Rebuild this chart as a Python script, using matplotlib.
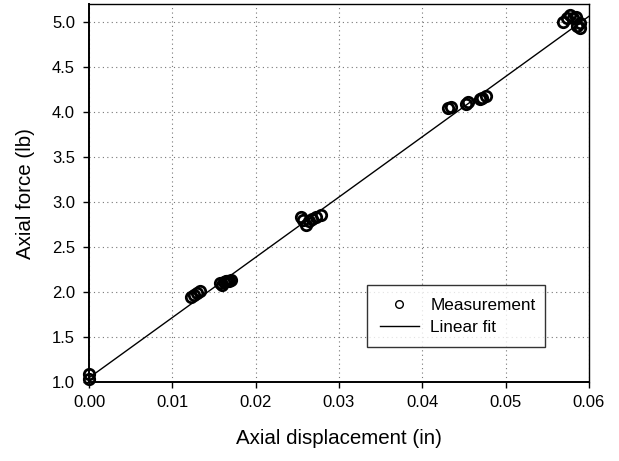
import numpy as np
import matplotlib.pyplot as plt

plt.rcParams['font.family'] = ['Liberation Sans', 'DejaVu Sans']

# Measured axial displacement (in) and force (lb)
disp = [0.0, 0.0,
        0.0122, 0.0126, 0.0129, 0.0133,
        0.0157, 0.0160, 0.0162, 0.0164, 0.0166, 0.0168, 0.0170,
        0.0254, 0.0257, 0.0261, 0.0264, 0.0268, 0.0273, 0.0279,
        0.0431, 0.0435, 0.0453, 0.0455, 0.0469, 0.0472, 0.0476,
        0.0569, 0.0574, 0.0577, 0.0581, 0.0585, 0.0589, 0.0589, 0.0586]
force = [1.04, 1.09,
         1.95, 1.97, 1.99, 2.01,
         2.10, 2.08, 2.11, 2.12, 2.12, 2.13, 2.14,
         2.83, 2.80, 2.75, 2.79, 2.81, 2.83, 2.86,
         4.04, 4.06, 4.09, 4.11, 4.14, 4.16, 4.18,
         5.00, 5.04, 5.08, 5.05, 5.06, 4.99, 4.93, 4.96]

# linear fit coefficients: force = intercept + slope * disp
fit_slope = 66.9
fit_intercept = 1.05

xticks = [0.00, 0.01, 0.02, 0.03, 0.04, 0.05, 0.06]
yticks = [1.0, 1.5, 2.0, 2.5, 3.0, 3.5, 4.0, 4.5, 5.0]

fig = plt.figure(figsize=(6.19, 4.61), dpi=100)
ax = fig.add_axes([0.1438, 0.1707, 0.8077, 0.8206])

xfit = np.array([0.0, 0.06])
ax.plot(xfit, fit_intercept + fit_slope * xfit, color='black', lw=1.0,
        label='Linear fit', zorder=3)
ax.plot(disp, force, linestyle='none', marker='o', markersize=7.5,
        markerfacecolor='none', markeredgecolor='black', markeredgewidth=2.0,
        label='Measurement', zorder=4, clip_on=False)

ax.set_xlim(0, 0.06)
ax.set_ylim(1.0, 5.2)
ax.set_xticks(xticks)
ax.set_xticklabels([f'{v:.2f}' for v in xticks])
ax.set_yticks(yticks)
ax.set_yticklabels([f'{v:.1f}' for v in yticks])
ax.tick_params(direction='out', length=4, width=1, labelsize=12,
               top=False, right=False)
ax.tick_params(axis='y', pad=6)
ax.tick_params(axis='x', pad=5)
ax.grid(True, linestyle=(0, (1, 3)), color='#777777', linewidth=0.8)
ax.set_axisbelow(True)
for s in ax.spines.values():
    s.set_linewidth(1.0)
ax.spines['left'].set_linewidth(1.4)
ax.spines['bottom'].set_linewidth(1.4)

ax.set_xlabel('Axial displacement (in)', fontsize=14.8, labelpad=14)
ax.set_ylabel('Axial force (lb)', fontsize=14.8, labelpad=12)

handles, labels = ax.get_legend_handles_labels()
leg = ax.legend(handles[::-1], labels[::-1], loc='lower left',
                bbox_to_anchor=(0.556, 0.0925, 0.356, 0.178), mode='expand',
                borderaxespad=0, fontsize=12.3, frameon=True, fancybox=False,
                borderpad=0.75, handlelength=2.3, handletextpad=0.65,
                labelspacing=0.4)
leg.get_frame().set_edgecolor('black')
leg.get_frame().set_linewidth(1.0)
leg.legend_handles[0].set_markersize(5.5)
leg.legend_handles[0].set_markeredgewidth(1.0)

fig.savefig('out.png', dpi=100)
